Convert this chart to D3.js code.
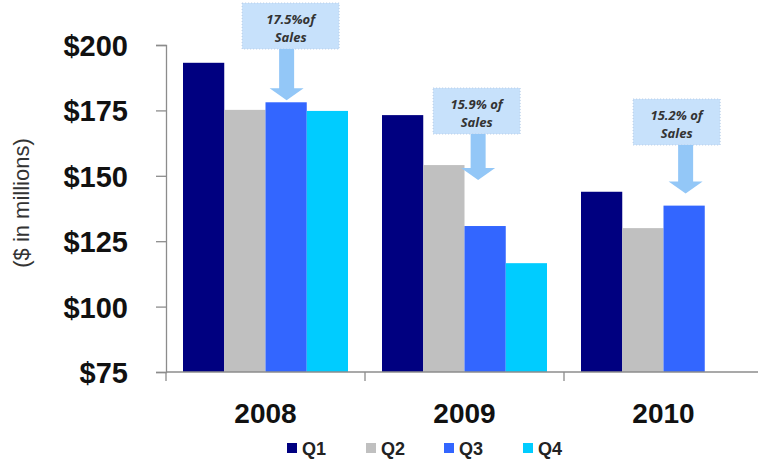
<!DOCTYPE html>
<html><head><meta charset="utf-8">
<script src="https://cdn.jsdelivr.net/npm/d3@7"></script>
<style>html,body{margin:0;padding:0;background:#fff;}svg{display:block;}</style>
</head><body>
<svg id="chart" width="758" height="459"></svg>
<script>
// ---- data ----
const years = ["2008", "2009", "2010"];
const quarters = ["Q1", "Q2", "Q3", "Q4"];
const q1 = [193.2, 173.2, 143.9];
const q2 = [175.2, 154.1, 130.0];
const q3 = [178.1, 130.8, 138.6];
const q4 = [174.8, 116.6, null];
const yTicks = [75, 100, 125, 150, 175, 200];
const calloutYears = ["2008", "2009", "2010"];
const calloutLines1 = ["17.5%of", "15.9% of", "15.2% of"];
const calloutLines2 = ["Sales", "Sales", "Sales"];
const colors = ["#000080", "#c0c0c0", "#3366ff", "#00ccff"];

// ---- layout ----
const svg = d3.select("#chart");
const x0 = d3.scaleBand().domain(years).range([166, 763]).padding(0);
const x1 = d3.scaleBand().domain(quarters).range([17, x0.bandwidth() - 17]).padding(0);
const y = d3.scaleLinear().domain([75, 200]).range([372, 45]);
const color = d3.scaleOrdinal().domain(quarters).range(colors);

const series = [q1, q2, q3, q4];
const rows = [];
years.forEach((yr, i) => quarters.forEach((q, j) => {
  const v = series[j][i];
  if (v != null) rows.push({ year: yr, q: q, v: v });
}));

// bars
svg.append("g").selectAll("rect").data(rows).join("rect")
  .attr("x", d => x0(d.year) + x1(d.q))
  .attr("y", d => y(d.v))
  .attr("width", x1.bandwidth())
  .attr("height", d => y(75) - y(d.v))
  .attr("fill", d => color(d.q));

// y axis
const yAxis = svg.append("g").attr("transform", "translate(166,0)")
  .call(d3.axisLeft(y).tickValues(yTicks).tickSize(10).tickPadding(28).tickFormat(d => "$" + d));
yAxis.select(".domain").attr("stroke", "#8c8c8c").attr("stroke-width", 1.3);
yAxis.selectAll(".tick line").attr("stroke", "#8c8c8c").attr("stroke-width", 1.3);
yAxis.selectAll("text").attr("font-family", "Liberation Sans, Arial, sans-serif")
  .attr("font-size", 29).attr("font-weight", "bold").attr("fill", "#111").attr("dy", "0.36em");

// x axis
const xAxis = svg.append("g").attr("transform", "translate(0,372)");
xAxis.append("line").attr("x1", 166).attr("x2", 763).attr("y1", 0).attr("y2", 0)
  .attr("stroke", "#8c8c8c").attr("stroke-width", 1.3);
xAxis.selectAll("line.t").data(years.concat(["end"])).join("line").attr("class", "t")
  .attr("x1", (d, i) => i < years.length ? x0(d) : x0.range()[1])
  .attr("x2", (d, i) => i < years.length ? x0(d) : x0.range()[1])
  .attr("y1", 0).attr("y2", 9).attr("stroke", "#8c8c8c").attr("stroke-width", 1.3);
xAxis.selectAll("text").data(years).join("text")
  .attr("x", d => x0(d) + x0.bandwidth() / 2).attr("y", 51)
  .attr("text-anchor", "middle")
  .attr("font-family", "Liberation Sans, Arial, sans-serif")
  .attr("font-size", 28).attr("font-weight", "bold").attr("fill", "#111")
  .text(d => d);

// y title
svg.append("text").attr("transform", "translate(29,203) rotate(-90)")
  .attr("text-anchor", "middle")
  .attr("font-family", "Liberation Sans, Arial, sans-serif")
  .attr("font-size", 22).attr("fill", "#333")
  .text("($ in millions)");

// callouts
const boxTop = [3, 88, 99];      // px
const boxW = [97, 87, 87];
const boxDx = [4.5, -8.5, -7.5]; // box centre offset vs bar centre
const arrowDx = [0.5, -7, 1.5];
const tipGap = [2, 46, 12];
const boxH = 46;
calloutYears.forEach((yr, i) => {
  const cx = x0(yr) + x1("Q3") + x1.bandwidth() / 2;
  const top = y(q3[years.indexOf(yr)]) - tipGap[i];
  const g = svg.append("g");
  const bx = cx + boxDx[i] - boxW[i] / 2;
  g.append("rect").attr("x", bx).attr("y", boxTop[i]).attr("width", boxW[i]).attr("height", boxH)
    .attr("fill", "#c7e1fb").attr("stroke", "#b7cde6").attr("stroke-width", 1).attr("stroke-dasharray", "1,2");
  const ax = cx + arrowDx[i];
  const sb = boxTop[i] + boxH;
  const headY = top - 12;
  g.append("path").attr("d",
    `M${ax - 7.5},${sb} L${ax + 7.5},${sb} L${ax + 7.5},${headY} L${ax + 17},${headY} L${ax},${top} L${ax - 17},${headY} L${ax - 7.5},${headY} Z`)
    .attr("fill", "#93c7f7");
  const tx = cx + boxDx[i];
  [calloutLines1[i], calloutLines2[i]].forEach((t, k) => {
    g.append("text").attr("x", tx).attr("y", boxTop[i] + 21 + k * 18)
      .attr("text-anchor", "middle")
      .attr("font-family", "Open Sans, sans-serif").attr("font-style", "italic").attr("font-weight", "bold")
      .attr("font-size", 13).attr("fill", "#333").text(t);
  });
});

// legend
const legX = [287, 366, 444, 523];
const leg = svg.append("g");
quarters.forEach((q, i) => {
  leg.append("rect").attr("x", legX[i]).attr("y", 443).attr("width", 10).attr("height", 10).attr("fill", color(q));
  leg.append("text").attr("x", legX[i] + 15).attr("y", 455)
    .attr("font-family", "Liberation Sans, Arial, sans-serif").attr("font-weight", "bold")
    .attr("font-size", 18).attr("fill", "#222").text(q);
});
</script>
</body></html>
